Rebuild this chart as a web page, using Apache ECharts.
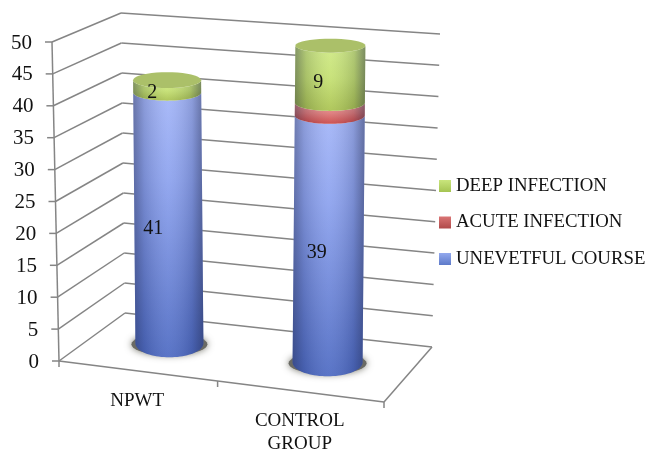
<!DOCTYPE html>
<html><head><meta charset="utf-8">
<style>html,body{margin:0;padding:0;background:#fff}#c{width:646px;height:452px}</style>
<script src="https://cdn.jsdelivr.net/npm/echarts@6/dist/echarts.min.js"></script>
</head><body><div id="c"></div>
<script>
// ---- data ----
const categories = ['NPWT', 'CONTROL\nGROUP'];
const uneventful = [41, 39];
const acute = [0, 2];
const deep = [2, 9];
const valueTicks = [0, 5, 10, 15, 20, 25, 30, 35, 40, 45, 50];
const seriesNames = ['UNEVETFUL COURSE', 'ACUTE INFECTION', 'DEEP INFECTION'];

// ---- chart box: front-left edge / floor front edge, and 3-D box corners ----
const BOX = { left: 59, right: 384, top: 42, bottom: 361 };
const FONT = '"Liberation Serif", serif';
const C = {
  fb0: [59, 361], fb1: [384, 402], bb0: [125, 313], bb1: [432, 347],
  ft0: [52, 42], ft1: [387, 70], bt0: [121, 13], bt1: [440, 34]
};
const mix = (p, q, t) => [p[0] + (q[0] - p[0]) * t, p[1] + (q[1] - p[1]) * t];
// screen position of a frame-space point (a along floor, fv up, d in depth)
function warp(a, fv, d) {
  const bottom = mix(mix(C.fb0, C.fb1, a), mix(C.bb0, C.bb1, a), d);
  const top = mix(mix(C.ft0, C.ft1, a), mix(C.bt0, C.bt1, a), d);
  return mix(bottom, top, fv);
}
const fracs = (api, catOrA, v) => {
  const p = api.coord([catOrA, v]);
  return [(p[0] - BOX.left) / (BOX.right - BOX.left), (BOX.bottom - p[1]) / (BOX.bottom - BOX.top)];
};
const frameFv = (api, v) => fracs(api, 0, v)[1];

// cylinder placement per category
const CYL = {
  nudge: [-0.015, -0.012], depth: [0.551, 0.545], rx: [34, 35],
  heightK: [0.982, 0.995], labelDx: [-15, -12], labelDy: [11, 14]
};
const ry = v => 14 - 7 * v / 50;
function arc(cx, cy, rx, r, from, to) {
  const n = 40, out = [];
  for (let i = 0; i <= n; i++) {
    const t = from + (to - from) * i / n;
    out.push([cx + rx * Math.cos(t), cy + r * Math.sin(t)]);
  }
  return out;
}
const LG = echarts.graphic.LinearGradient;
const vGrad = stops => new LG(0, 0, 0, 1, stops.map((c, i) => ({ offset: i / (stops.length - 1), color: c })));
const edgeShade = new LG(0, 0, 1, 0, [
  { offset: 0, color: 'rgba(25,30,60,0.42)' },
  { offset: 0.16, color: 'rgba(25,30,60,0.16)' },
  { offset: 0.5, color: 'rgba(255,255,255,0.08)' },
  { offset: 0.84, color: 'rgba(25,30,60,0.16)' },
  { offset: 1, color: 'rgba(25,30,60,0.46)' }
]);
const FILL = [
  ['#a3b5f8', '#8ba1ee', '#6c85d8', '#4c69c2'],
  ['#e99b9b', '#dd7777', '#c94444'],
  ['#cfea84', '#c4e070', '#a9c24f']
];
const LEGEND_FILL = [['#93a9ee', '#5d7ac9'], ['#da7575', '#b04a4a'], ['#c9e57c', '#a5c452']];

function cylinderItem(sIdx) {
  return function (params, api) {
    const cat = api.value(0), v0 = api.value(1), v1 = api.value(2), val = api.value(3);
    const kids = [];
    const centre = v => {
      const f = fracs(api, cat, v);
      return warp(f[0] + CYL.nudge[cat], f[1] * CYL.heightK[cat], CYL.depth[cat]);
    };
    const rx = CYL.rx[cat];
    const a = centre(v0), b = centre(v1);
    if (sIdx === 0) {
      kids.push({ type: 'polygon', shape: { points: arc(a[0], a[1] + 1, rx + 4, ry(0) - 3, 0, Math.PI * 2) },
        style: { fill: '#6a6a64', shadowBlur: 7, shadowColor: '#77776e' } });
    }
    if (val > 0) {
      const front = arc(a[0], a[1], rx, ry(v0), 0, Math.PI).concat(arc(b[0], b[1], rx, ry(v1), Math.PI, 0));
      kids.push({ type: 'polygon', shape: { points: front }, style: { fill: vGrad(FILL[sIdx]) } });
      kids.push({ type: 'polygon', shape: { points: front }, style: { fill: edgeShade } });
      if (sIdx === 2) {
        kids.push({ type: 'polygon', shape: { points: arc(b[0], b[1], rx, ry(v1), 0, Math.PI * 2) },
          style: { fill: '#abc069' } });
      }
      if (sIdx !== 1) {
        const m = centre((v0 + v1) / 2);
        kids.push({ type: 'text', style: { text: String(val), x: m[0] + CYL.labelDx[cat], y: m[1] + CYL.labelDy[cat] - (sIdx === 2 ? 5 : 0),
          align: 'center', verticalAlign: 'middle', fill: '#111', font: '20px ' + FONT } });
      }
    }
    return { type: 'group', children: kids };
  };
}

const LINE = { stroke: '#858585', lineWidth: 1.5 };
function line(p, q) {
  return { type: 'line', shape: { x1: p[0], y1: p[1], x2: q[0], y2: q[1] }, style: LINE };
}
function frameItem(params, api) {
  const v = api.value(0), fv = frameFv(api, v);
  const front = warp(0, fv, 0), back = warp(0, fv, 1), right = warp(1, fv, 1);
  const kids = [
    line(front, back), line(back, right),
    line([front[0] - 7, front[1]], front),
    { type: 'text', style: { text: String(v), x: front[0] - 20, y: front[1] + 1, align: 'right', verticalAlign: 'middle',
      fill: '#111', font: '21px ' + FONT } }
  ];
  if (params.dataIndex === 0) {
    const top = warp(0, 1, 0), fr = warp(1, 0, 0), br = warp(1, 0, 1);
    kids.push(line(front, top), line(front, fr), line(fr, br));
    [0, 0.488, 1].forEach(a => {
      const p = warp(a, 0, 0);
      kids.push(line(p, [p[0], p[1] + 6]));
    });
  }
  return { type: 'group', children: kids };
}
function categoryItem(params, api) {
  const i = api.value(0), f = fracs(api, i, 0), p = warp(f[0], 0, 0);
  return { type: 'text', style: { text: categories[i], x: p[0] - 3, y: p[1] + 18, align: 'center', verticalAlign: 'top',
    fill: '#111', font: '19px ' + FONT, lineHeight: 23 } };
}

const stacks = [uneventful, acute, deep];
const running = categories.map(() => 0);
const cylinderSeries = stacks.map((vals, s) => {
  const data = vals.map((val, i) => {
    const row = [i, running[i], running[i] + val, val];
    running[i] += val;
    return row;
  });
  return {
    type: 'custom', name: seriesNames[s], coordinateSystem: 'cartesian2d', clip: false, silent: true, z: 5 + s,
    renderItem: cylinderItem(s), encode: { x: 0, y: [1, 2] }, data,
    itemStyle: { color: vGrad(LEGEND_FILL[s]) }
  };
});

const chart = echarts.init(document.getElementById('c'));
chart.setOption({
  animation: false,
  backgroundColor: '#fff',
  grid: { left: BOX.left, top: BOX.top, width: BOX.right - BOX.left, height: BOX.bottom - BOX.top },
  xAxis: { type: 'category', data: categories, show: false },
  yAxis: { type: 'value', min: 0, max: 50, interval: 5, show: false },
  legend: {
    orient: 'vertical', left: 439, top: 176, padding: 0, itemWidth: 12, itemHeight: 12, itemGap: 16.5,
    selectedMode: false, icon: 'rect',
    data: [seriesNames[2], seriesNames[1], seriesNames[0]],
    textStyle: { color: '#111', fontFamily: FONT, fontSize: 18.8, lineHeight: 20 }
  },
  series: [
    { type: 'custom', name: 'frame', coordinateSystem: 'cartesian2d', clip: false, silent: true, z: 1,
      renderItem: frameItem, encode: { y: 0 }, data: valueTicks.map(v => [v]) },
    { type: 'custom', name: 'categories', coordinateSystem: 'cartesian2d', clip: false, silent: true, z: 1,
      renderItem: categoryItem, encode: { x: 0 }, data: categories.map((c, i) => [i]) }
  ].concat(cylinderSeries)
});
</script></body></html>
